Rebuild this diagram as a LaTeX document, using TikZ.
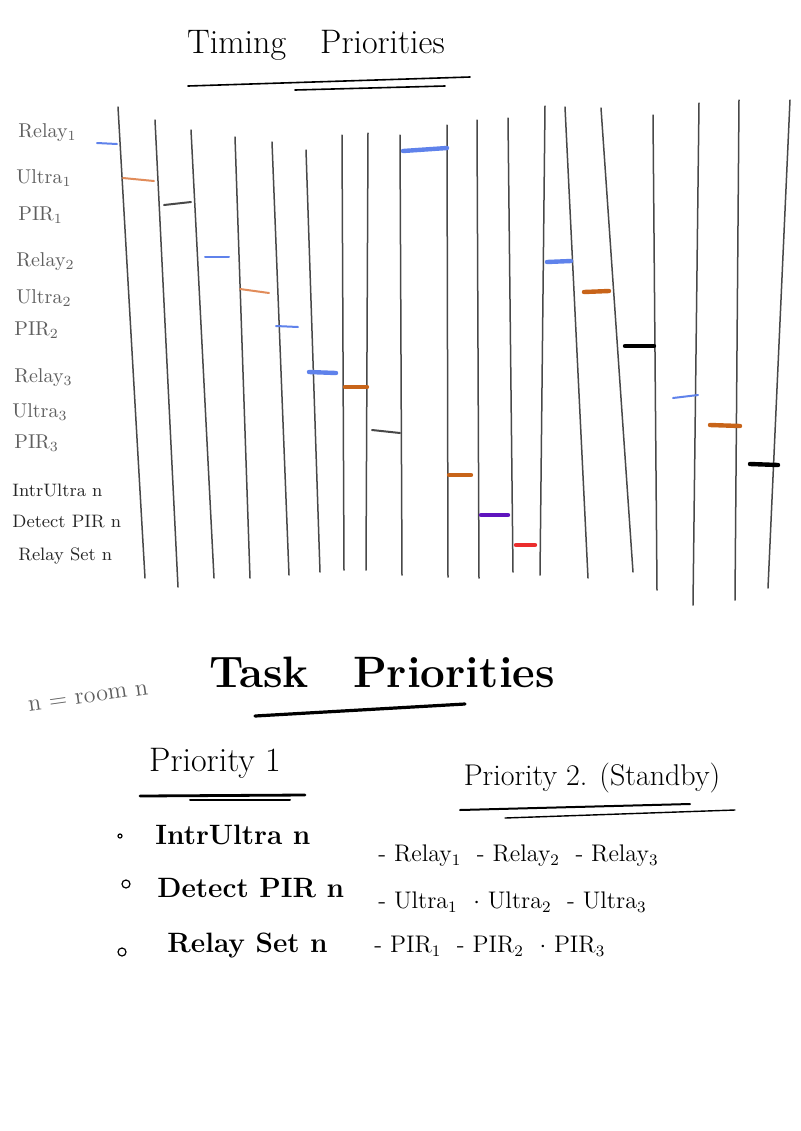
\documentclass[tikz,border=0pt]{standalone}
\usepackage{amsmath}
\usepackage{xcolor,tikz}
\usetikzlibrary{positioning}
\definecolor{lane}{RGB}{72,72,72}
\definecolor{lbl}{RGB}{95,95,95}
\definecolor{bc}{RGB}{95,130,235}
\definecolor{oc}{RGB}{225,140,90}
\definecolor{od}{RGB}{200,100,25}
\definecolor{pc}{RGB}{95,20,190}
\definecolor{redc}{RGB}{235,45,45}
\tikzset{ln/.style={draw=lane,line width=.75pt,line cap=round},
 mk/.style={line width=1pt,line cap=round},
 mkb/.style={mk,line width=2.2pt},
 tag/.style={anchor=west,text=lbl,inner sep=0pt,font=\fontsize{10}{12}\selectfont},
 tagd/.style={tag,text=black!85,font=\fontsize{9}{11}\selectfont},
 ttl/.style={inner sep=0pt,font=\fontsize{17}{20}\selectfont},
 big/.style={inner sep=0pt,font=\fontsize{22}{26}\selectfont\bfseries},
 head/.style={inner sep=0pt,font=\fontsize{17}{20}\selectfont},
 item/.style={anchor=west,inner sep=0pt,font=\fontsize{14}{17}\selectfont\bfseries},
 sub/.style={anchor=west,inner sep=0pt,font=\fontsize{12}{14}\selectfont},
 blt/.style={draw,circle,inner sep=0pt,minimum size=4pt,line width=.6pt},
 ul/.style={line width=1pt,line cap=round}}

\begin{document}
\begin{tikzpicture}[x=.5pt,y=-.5pt]
\useasboundingbox[fill=white] (0,0) rectangle (800,1131);
% title
\node[ttl] (tp) at (316,45) {Timing\quad Priorities};
\draw[ul,line width=.8pt] (188,86)--(470,77);
\draw[ul,line width=.8pt] (295,90)--(445,86);
% labels
\node[tag] (r1) at (18,133) {Relay$_1$};
\node[tag] (u1) at (16,178) {Ultra$_1$};
\node[tag] (p1) at (18,215) {PIR$_1$};
\node[tag] (r2) at (16,262) {Relay$_2$};
\node[tag] (u2) at (16,298) {Ultra$_2$};
\node[tag] (p2) at (14,330) {PIR$_2$};
\node[tag] (r3) at (14,378) {Relay$_3$};
\node[tag] (u3) at (12,412) {Ultra$_3$};
\node[tag] (p3) at (14,443) {PIR$_3$};
\node[tagd] (iu) at (12,490) {IntrUltra n};
\node[tagd] (dp) at (12,522) {Detect PIR n};
\node[tagd] (rs) at (18,556) {Relay Set n};
% lanes
\draw[ln] (118,107)--(145,578);
\draw[ln] (155,120)--(178,587);
\draw[ln] (191,130)--(214,578);
\draw[ln] (235,137)--(250,578);
\draw[ln] (272,142)--(289,575);
\draw[ln] (306,150)--(320,572);
\draw[ln] (342,135)--(344,570);
\draw[ln] (368,133)--(366,570);
\draw[ln] (400,135)--(402,575);
\draw[ln] (447,125)--(448,577);
\draw[ln] (477,120)--(479,578);
\draw[ln] (508,118)--(513,572);
\draw[ln] (545,106)--(540,575);
\draw[ln] (565,107)--(588,578);
\draw[ln] (601,108)--(633,572);
\draw[ln] (653,115)--(657,590);
\draw[ln] (699,103)--(693,605);
\draw[ln] (739,100)--(735,600);
\draw[ln] (790,100)--(768,588);
% slots
\draw[mk,bc] (97,143)--(117,144);
\draw[mk,oc] (123,178)--(154,181);
\draw[mk,lane] (164,205)--(191,202);
\draw[mk,bc] (205,257)--(229,257);
\draw[mk,oc] (240,289)--(269,293);
\draw[mk,bc] (276,326)--(298,327);
\draw[mkb,bc] (309,372)--(336,373);
\draw[mkb,od] (345,387)--(367,387);
\draw[mk,lane] (372,430)--(400,433);
\draw[mkb,bc] (403,151)--(447,148);
\draw[mkb,od] (449,475)--(471,475);
\draw[mkb,pc] (481,515)--(508,515);
\draw[mkb,redc] (516,545)--(535,545);
\draw[mkb,bc] (547,262)--(571,261);
\draw[mkb,od] (584,292)--(609,291);
\draw[mkb,black] (625,346)--(654,346);
\draw[mk,bc] (673,398)--(698,395);
\draw[mkb,od] (710,425)--(740,426);
\draw[mkb,black] (750,464)--(778,465);
% task priorities
\node[big] (tk) at (382,672) {Task\quad Priorities};
\draw[ul,line width=1.6pt] (255,716)--(465,704);
\node[tag,rotate=8,font=\fontsize{12}{14}\selectfont] (rm) at (28,706) {n = room n};
\node[head] (h1) at (215,763) {Priority 1};
\draw[ul,line width=1.4pt] (140,796)--(305,795);
\draw[ul] (190,800)--(290,800);
\node[head,font=\fontsize{15}{18}\selectfont] (h2) at (592,778) {Priority 2. (Standby)};
\draw[ul] (460,810)--(690,804);
\draw[ul,line width=.7pt] (505,818)--(735,810);
% priority 1 list
\node[blt,minimum size=2pt] (b1) at (120,836) {};
\node[blt] (b2) at (126,884) {};
\node[blt] (b3) at (122,952) {};
\node[item] (i1) at (155,835) {IntrUltra n};
\node[item] (i2) at (157,888) {Detect PIR n};
\node[item] (i3) at (167,946) {Relay Set n};
% priority 2 list
\node[sub] (s1) at (378,856) {- Relay$_1$ \ - Relay$_2$ \ - Relay$_3$};
\node[sub] (s2) at (378,902) {- Ultra$_1$ \ $\cdot$ Ultra$_2$ \ - Ultra$_3$};
\node[sub] (s3) at (374,946) {- PIR$_1$ \ - PIR$_2$ \ $\cdot$ PIR$_3$};
\end{tikzpicture}
\end{document}
